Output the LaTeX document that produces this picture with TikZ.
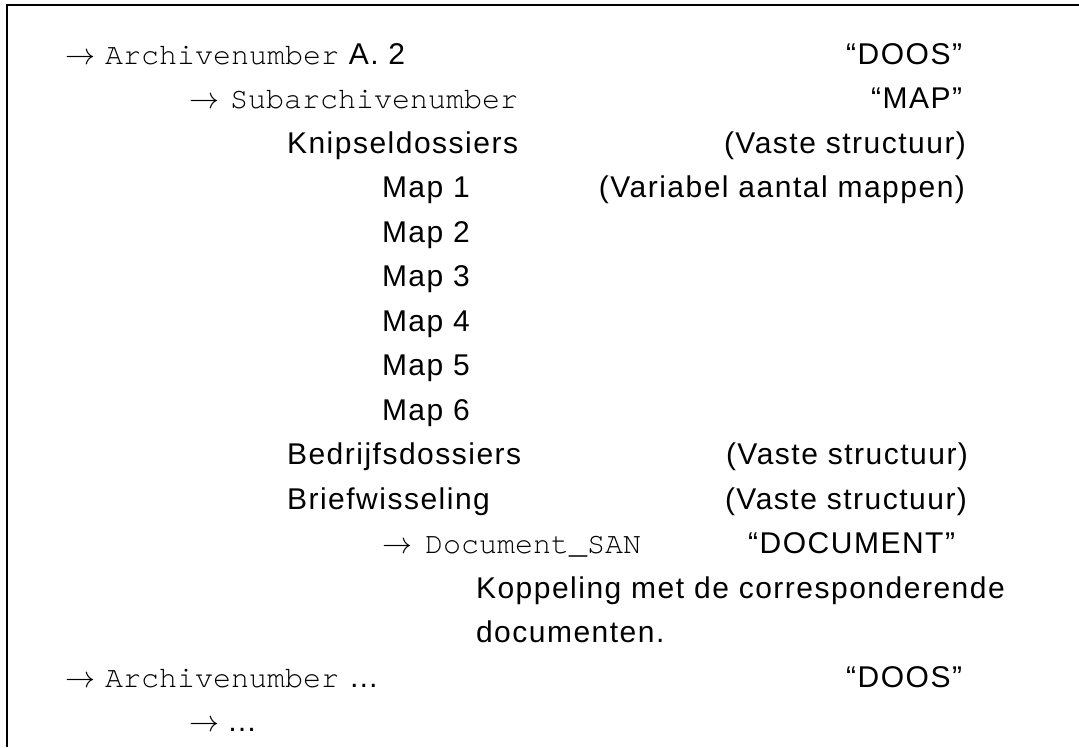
\documentclass[tikz,border=0pt]{standalone}
\usepackage{fontspec}
\setsansfont[LetterSpace=5]{Liberation Sans}
\setmonofont{TeX Gyre Cursor}
\renewcommand{\familydefault}{\sfdefault}
\newcommand{\rarr}{\scalebox{1.2057}{$\rightarrow$}}
\begin{document}
\begin{tikzpicture}[x=1pt,y=-1pt,
  txt/.style={inner sep=0pt, outer sep=0pt, anchor=base west, font=\fontsize{30}{36}\selectfont\sffamily},
  rtxt/.style={txt, anchor=base east},
  frame/.style={line width=2pt, draw=black}]
\useasboundingbox (0,0) rectangle (1079,747);
\draw[frame] (1079,5) -- (7,5) -- (7,747);
% row 1
\node[txt] (a1) at (65,64) {\rarr};
\node[txt] (t1) at (105,64) {\ttfamily Archivenumber\sffamily\ A. 2};
\node[rtxt] (c1) at (962,64) {“DOOS”};
% row 2
\node[txt] (a2) at (189,108.5) {\rarr};
\node[txt] (t2) at (230,108.5) {\ttfamily Subarchivenumber};
\node[rtxt] (c2) at (962,108.5) {“MAP”};
% row 3
\node[txt] (t3) at (287,153) {Knipseldossiers};
\node[rtxt] (c3) at (966,153) {(Vaste structuur)};
% rows 4-9
\node[txt] (t4) at (382,197.5) {Map 1};
\node[rtxt] (c4) at (965,197.5) {(Variabel aantal mappen)};
\node[txt] (t5) at (382,242) {Map 2};
\node[txt] (t6) at (382,286.5) {Map 3};
\node[txt] (t7) at (382,331) {Map 4};
\node[txt] (t8) at (382,375.5) {Map 5};
\node[txt] (t9) at (382,420) {Map 6};
% row 10-11
\node[txt] (t10) at (287,464.5) {Bedrijfsdossiers};
\node[rtxt] (c10) at (968,464.5) {(Vaste structuur)};
\node[txt] (t11) at (287,509) {Briefwisseling};
\node[rtxt] (c11) at (967,509) {(Vaste structuur)};
% row 12
\node[txt] (a12) at (382,553.5) {\rarr};
\node[txt] (t12) at (425,553.5) {\ttfamily Document\_SAN};
\node[rtxt] (c12) at (955,553.5) {“DOCUMENT”};
% row 13-14
\node[txt] (t13) at (476,598) {Koppeling met de corresponderende};
\node[txt] (t14) at (476,642.5) {documenten.};
% row 15
\node[txt] (a15) at (65,687) {\rarr};
\node[txt] (t15) at (105,687) {\ttfamily Archivenumber\sffamily\ …};
\node[rtxt] (c15) at (962,687) {“DOOS”};
% row 16
\node[txt] (a16) at (189,731.5) {\rarr};
\node[txt] (t16) at (227,731.5) {…};
\end{tikzpicture}
\end{document}
